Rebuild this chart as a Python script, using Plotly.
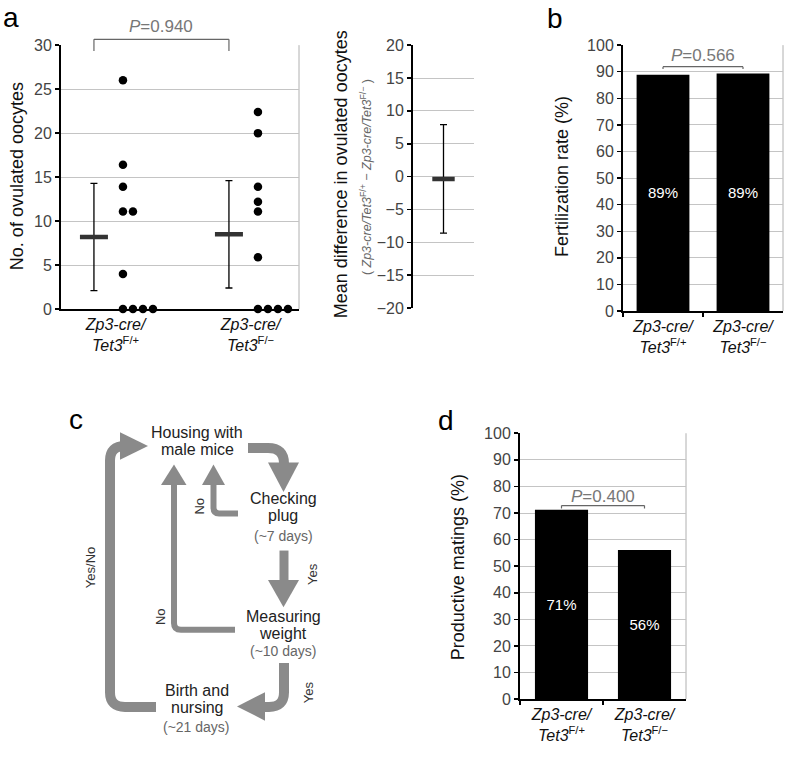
import plotly.graph_objects as go

W, H = 787, 758
FONT = "Liberation Sans, Arial, Helvetica, sans-serif"
GRID = "#c4c4c4"
ARROW = "#8a8a8a"

# ---------------- data ----------------
genotype_labels = ["<i>Zp3-cre/</i><br><i>Tet3</i><sup>F/+</sup>",
                   "<i>Zp3-cre/</i><br><i>Tet3</i><sup>F/−</sup>"]

# panel a (left): ovulated oocytes per female
oocytes_fplus = [26, 16.4, 13.9, 11.1, 11.1, 4, 0, 0, 0, 0]
oocytes_fminus = [22.4, 20, 13.9, 12.2, 11.1, 5.9, 0, 0, 0, 0]
oocytes_mean = [8.2, 8.5]
oocytes_sd = [6.1, 6.1]
p_a = "0.940"

# panel a (right): mean difference with interval
diff_mean = [-0.35]
diff_upper = [7.9]
diff_lower = [-8.6]

# panel b: fertilization rate
fert_rate = [88.9, 89.3]
fert_text = ["89%", "89%"]
p_b = "0.566"

# panel d: productive matings
prod_mat = [71.2, 56.1]
prod_text = ["71%", "56%"]
p_d = "0.400"


def px(x):
    return x / W


def py(y):
    return 1 - y / H


def swarm(vals, base, step):
    xs, seen = [], {}
    for v in vals:
        k = seen.get(v, 0)
        seen[v] = k + 1
        xs.append(base + k * step)
    return xs


fig = go.Figure()

# ---------- panel a left ----------
for gi, vals in enumerate([oocytes_fplus, oocytes_fminus]):
    fig.add_trace(go.Scatter(
        x=swarm(vals, gi + 0.215, 0.074), y=vals, mode="markers",
        marker=dict(size=8.5, color="black"), xaxis="x", yaxis="y",
        showlegend=False, cliponaxis=False))
fig.add_trace(go.Scatter(
    x=[0, 1], y=oocytes_mean, mode="markers",
    marker=dict(size=1, color="rgba(0,0,0,0)"),
    error_y=dict(type="data", array=oocytes_sd, thickness=1.3, width=3.5, color="black"),
    xaxis="x", yaxis="y", showlegend=False))
fig.add_trace(go.Scatter(
    x=[0, 1], y=oocytes_mean, mode="markers",
    marker=dict(symbol="line-ew", size=20, line=dict(width=4.5, color="#333")),
    xaxis="x", yaxis="y", showlegend=False))

# ---------- panel a right ----------
fig.add_trace(go.Scatter(
    x=[0], y=diff_mean, mode="markers",
    marker=dict(size=1, color="rgba(0,0,0,0)"),
    error_y=dict(type="data", symmetric=False,
                 array=[u - m for u, m in zip(diff_upper, diff_mean)],
                 arrayminus=[m - l for l, m in zip(diff_lower, diff_mean)],
                 thickness=1.3, width=3.5, color="black"),
    xaxis="x2", yaxis="y2", showlegend=False))
fig.add_trace(go.Scatter(
    x=[0], y=diff_mean, mode="markers",
    marker=dict(symbol="line-ew", size=16, line=dict(width=4.5, color="#333")),
    xaxis="x2", yaxis="y2", showlegend=False))

# ---------- panel b ----------
fig.add_trace(go.Bar(
    x=genotype_labels, y=fert_rate, width=0.66, marker=dict(color="black", line=dict(width=0)),
    text=fert_text, textposition="inside", insidetextanchor="middle", textangle=0,
    textfont=dict(color="white", size=15, family=FONT),
    xaxis="x3", yaxis="y3", showlegend=False))

# ---------- panel d ----------
fig.add_trace(go.Bar(
    x=genotype_labels, y=prod_mat, width=0.64, marker=dict(color="black", line=dict(width=0)),
    text=prod_text, textposition="inside", insidetextanchor="middle", textangle=0,
    textfont=dict(color="white", size=15, family=FONT),
    xaxis="x4", yaxis="y4", showlegend=False))

ytick_font = dict(size=16, color="#444", family=FONT)
xtick_font = dict(size=16, color="#111", family=FONT)
yax_common = dict(showline=True, linecolor="black", linewidth=2, ticks="outside",
                  ticklen=4, tickwidth=1.5, tickcolor="black", tickfont=ytick_font,
                  gridcolor=GRID, gridwidth=1, zeroline=False)

fig.update_layout(
    width=W, height=H, autosize=False,
    margin=dict(l=0, r=0, t=0, b=0),
    paper_bgcolor="white", plot_bgcolor="white",
    font=dict(family=FONT),
    showlegend=False,
    xaxis=dict(domain=[px(61), px(299)], range=[-0.244, 1.519], anchor="y",
               showline=True, linecolor="black", linewidth=2, ticks="",
               tickvals=[0.16, 1.16], ticktext=genotype_labels, tickfont=xtick_font,
               showgrid=False, zeroline=False, fixedrange=True),
    yaxis=dict(domain=[py(308), py(38)], range=[0, 30], dtick=5, anchor="x", **yax_common),
    xaxis2=dict(domain=[px(413), px(474)], range=[-0.5, 0.5], anchor="y2",
                visible=False),
    yaxis2=dict(domain=[py(307), py(38)], range=[-20, 20], dtick=5, anchor="x2", **yax_common),
    xaxis3=dict(domain=[px(623), px(783)], anchor="y3", type="category",
                showline=True, linecolor="black", linewidth=2, ticks="outside",
                tickson="boundaries", ticklen=4, tickcolor="black", tickwidth=1.5,
                tickfont=xtick_font, showgrid=False),
    yaxis3=dict(domain=[py(310), py(38)], range=[0, 100], dtick=10, anchor="x3", **yax_common),
    xaxis4=dict(domain=[px(520), px(686)], anchor="y4", type="category",
                showline=True, linecolor="black", linewidth=2, ticks="outside",
                tickson="boundaries", ticklen=4, tickcolor="black", tickwidth=1.5,
                tickfont=xtick_font, showgrid=False),
    yaxis4=dict(domain=[py(707), py(435)], range=[0, 100], dtick=10, anchor="x4", **yax_common),
)

shapes = []
# right borders
for x, y0, y1 in [(299, 38, 308), (783, 38, 310), (686, 435, 707)]:
    shapes.append(dict(type="line", xref="paper", yref="paper", x0=px(x), x1=px(x),
                       y0=py(y0), y1=py(y1), line=dict(color="#b0b0b0", width=1), layer="below"))

# P brackets
def bracket(xref, yref, x0, x1, ytop, yleg, color="#666"):
    out = []
    for a, b, c, d in [(x0, ytop, x1, ytop), (x0, ytop, x0, yleg), (x1, ytop, x1, yleg)]:
        out.append(dict(type="line", xref=xref, yref=yref, x0=a, y0=b, x1=c, y1=d,
                        line=dict(color=color, width=1.2)))
    return out

shapes += bracket("x", "paper", 0, 1, py(32), py(44))
shapes += bracket("x3", "y3", 0, 1, 91.9, 91.0)
shapes += bracket("x4", "y4", 0, 1, 72.8, 71.7)

# flowchart (panel c)
def P(x, y):
    return f"{px(x):.5f},{py(y):.5f}"

def stroke(path, width):
    return dict(type="path", xref="paper", yref="paper", path=path,
                line=dict(color=ARROW, width=width), fillcolor="rgba(0,0,0,0)")

def head(a, b, c):
    return dict(type="path", xref="paper", yref="paper",
                path=f"M {P(*a)} L {P(*b)} L {P(*c)} Z",
                line=dict(color=ARROW, width=0), fillcolor=ARROW)

# Housing -> Checking
shapes.append(stroke(f"M {P(248,450)} L {P(268,450)} Q {P(284,450)} {P(284,466)}", 10))
shapes.append(head((268, 465), (299, 465), (283.5, 495)))
# Checking -> Housing (No)
shapes.append(stroke(f"M {P(238,517)} L {P(219,517)} Q {P(213.5,517)} {P(213.5,511)} L {P(213.5,487)}", 6))
shapes.append(head((202, 488), (225, 488), (213.5, 467)))
# Checking -> Measuring (Yes)
shapes.append(stroke(f"M {P(284,555)} L {P(284,588)}", 9))
shapes.append(head((268, 585), (299, 585), (283.5, 613)))
# Measuring -> Housing (No)
shapes.append(stroke(f"M {P(235,636)} L {P(181,636)} Q {P(174,636)} {P(174,629)} L {P(174,487)}", 6))
shapes.append(head((161, 488), (186.5, 488), (174, 467)))
# Measuring -> Birth (Yes)
shapes.append(stroke(f"M {P(284,670)} L {P(284,700)} Q {P(284,715)} {P(269,715)} L {P(262,715)}", 10))
shapes.append(head((265, 700), (265, 729), (237, 714.5)))
# Birth -> Housing (Yes/No)
shapes.append(stroke(f"M {P(156,715)} L {P(125,715)} Q {P(110,715)} {P(110,700)} L {P(110,463)} Q {P(110,448)} {P(125,448)}", 10))
shapes.append(head((120, 434), (120, 462), (148, 448)))

fig.update_layout(shapes=shapes)

ann = []

def text(x, y, t, size=17, color="#222", angle=0, xanchor="center", **kw):
    ann.append(dict(x=px(x), y=py(y), xref="paper", yref="paper", text=t, showarrow=False,
                    font=dict(size=size, color=color, family=FONT), textangle=angle,
                    xanchor=xanchor, yanchor="middle", borderpad=0, **kw))

# panel letters
text(11, 10, "a", size=28, color="black")
text(555, 11, "b", size=28, color="black")
text(76, 421, "c", size=28, color="black")
text(446, 422, "d", size=28, color="black")

# axis titles
text(17, 172, "No. of ovulated oocytes", size=18, color="#111", angle=-90)
text(341, 170, "Mean difference in ovulated oocytes", size=18, color="#111", angle=-90)
text(366, 173, "( <i>Zp3-cre/Tet3</i><sup>F/+</sup> − <i>Zp3-cre/Tet3</i><sup>F/−</sup> )",
     size=12.5, color="#666", angle=-90)
text(562, 173, "Fertilization rate (%)", size=18, color="#111", angle=-90)
text(458, 572, "Productive matings (%)", size=18, color="#111", angle=-90)

# P values
text(161, 19, f"<i>P</i>={p_a}", size=17, color="#777")
ann.append(dict(x=0.5, y=96.2, xref="x3", yref="y3", text=f"<i>P</i>={p_b}", showarrow=False,
                font=dict(size=17, color="#777", family=FONT), xanchor="center", yanchor="middle"))
ann.append(dict(x=0.5, y=76.3, xref="x4", yref="y4", text=f"<i>P</i>={p_d}", showarrow=False,
                font=dict(size=17, color="#777", family=FONT), xanchor="center", yanchor="middle"))

# flowchart nodes (each line separately, tight line spacing as in the reference)
node_lines = [
    (197, 434.5, "Housing with"), (197, 452, "male mice"),
    (283, 501.5, "Checking"), (283, 519, "plug"),
    (283, 622.5, "Measuring"), (283, 640, "weight"),
    (197, 698.5, "Birth and"), (197, 716, "nursing"),
]
for x, y, t in node_lines:
    text(x, y, t, size=16)
for x, y, t in [(283, 540, "(~7 days)"), (283, 658, "(~10 days)"), (196, 735, "(~21 days)")]:
    text(x, y, t, size=14, color="#666")

# flowchart edge labels
text(200, 510, "No", size=13, color="#333", angle=-90)
text(312, 579, "Yes", size=13, color="#333", angle=-90)
text(160, 623, "No", size=13, color="#333", angle=-90)
text(308, 700, "Yes", size=13, color="#333", angle=-90)
text(90, 573, "Yes/No", size=13, color="#333", angle=-90)

fig.update_layout(annotations=ann)

fig.write_html("out.html", config={"displayModeBar": False, "staticPlot": True},
               post_script="document.body.style.margin='0';document.body.style.padding='0';"
                           "document.body.style.overflow='hidden';")
